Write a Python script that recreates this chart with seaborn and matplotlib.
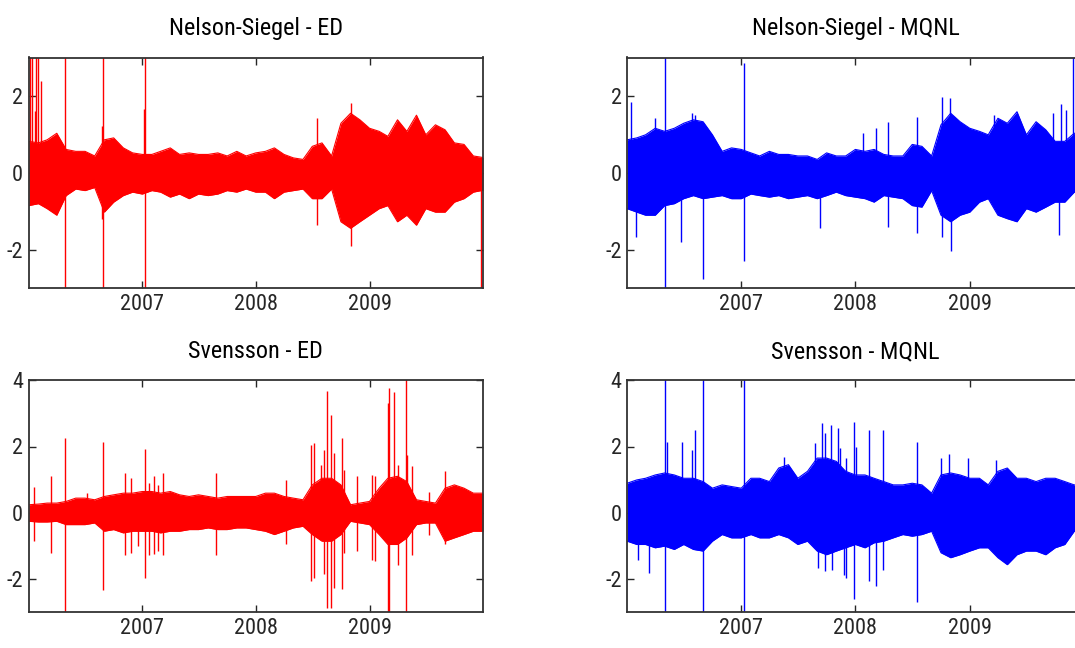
import numpy as np
import pandas as pd
import matplotlib
matplotlib.use("Agg")
import matplotlib.pyplot as plt
from matplotlib import font_manager
import seaborn as sns

# monthly grid, Jan 2006 .. Jan 2010
months = pd.date_range("2006-01-01", "2010-01-01", freq="MS")

# ---- Nelson-Siegel - ED : band envelope
ns_ed_upper = [0.82, 0.78, 0.86, 1.03, 0.61, 0.56, 0.56, 0.44, 0.86, 0.91, 0.65,
               0.52, 0.48, 0.48, 0.56, 0.65, 0.48, 0.52, 0.48, 0.48, 0.52, 0.44, 0.56,
               0.44, 0.52, 0.56, 0.65, 0.48, 0.39, 0.35, 0.69, 0.78, 0.44, 1.29, 1.55,
               1.38, 1.16, 1.08, 0.95, 1.38, 1.08, 1.50, 0.99, 1.25, 1.12, 0.78, 0.74,
               0.44, 0.40]
ns_ed_lower = [-0.85, -0.80, -0.93, -1.10, -0.59, -0.42, -0.46, -0.38, -1.02, -0.76, -0.59,
               -0.50, -0.55, -0.46, -0.50, -0.63, -0.55, -0.67, -0.55, -0.59, -0.55, -0.46, -0.50,
               -0.42, -0.50, -0.50, -0.67, -0.50, -0.46, -0.42, -0.67, -0.67, -0.42, -1.27, -1.44,
               -1.27, -1.10, -0.93, -0.85, -1.27, -1.10, -1.36, -0.93, -1.02, -1.02, -0.76, -0.67,
               -0.50, -0.45]
ns_ed_spike_dates = ["2006-01-05", "2006-01-12", "2006-01-20", "2006-01-24", "2006-02-01",
                     "2006-02-10", "2006-04-29", "2006-08-24", "2006-08-28", "2007-01-07",
                     "2007-01-09", "2008-07-15", "2008-11-04", "2009-12-27"]
ns_ed_spike_hi = [3.2, 3.2, 1.6, 3.2, 3.2, 2.4, 3.2, 1.21, 3.2, 1.67, 3.2, 1.42, 1.83, 0.0]
ns_ed_spike_lo = [0.0, 0.0, 0.0, 0.0, 0.0, 0.0, -3.2, -1.19, -3.2, 0.0, -3.2, -1.36, -1.89, -3.2]

# ---- Nelson-Siegel - MQNL
ns_mq_upper = [0.86, 0.91, 0.99, 1.16, 1.08, 1.16, 1.29, 1.38, 1.33, 0.99, 0.56, 0.65,
               0.61, 0.52, 0.44, 0.56, 0.48, 0.48, 0.44, 0.44, 0.35, 0.52, 0.44, 0.44,
               0.61, 0.56, 0.61, 0.48, 0.44, 0.44, 0.74, 0.69, 0.44, 1.25, 1.55, 1.33,
               1.16, 1.08, 0.99, 1.42, 1.29, 1.59, 0.99, 1.33, 1.12, 0.82, 0.82, 1.03, 1.03]
ns_mq_lower = [-0.93, -1.02, -1.10, -1.10, -0.85, -0.80, -0.67, -0.59, -0.67, -0.63, -0.59, -0.67,
               -0.67, -0.55, -0.59, -0.63, -0.59, -0.67, -0.63, -0.59, -0.67, -0.59, -0.50, -0.59,
               -0.63, -0.67, -0.76, -0.59, -0.63, -0.67, -0.85, -0.89, -0.46, -1.10, -1.27, -1.10,
               -1.02, -0.76, -0.67, -1.10, -1.19, -1.27, -0.93, -1.02, -0.89, -0.76, -0.76, -0.50, -0.50]
ns_mq_spike_dates = ["2006-01-14", "2006-01-29", "2006-04-01", "2006-05-02", "2006-06-23",
                     "2006-07-27", "2006-08-05", "2006-09-02", "2007-01-11", "2007-09-11",
                     "2008-01-27", "2008-03-08", "2008-04-15", "2008-07-16", "2008-10-04",
                     "2008-10-30", "2008-11-02", "2009-03-20", "2009-09-25", "2009-10-12",
                     "2009-10-19", "2009-11-05", "2009-11-26"]
ns_mq_spike_hi = [1.85, 0.0, 1.44, 3.2, 0.0, 1.56, 1.50, 0.0, 2.85, 0.0,
                  1.03, 1.16, 1.33, 1.46, 1.97, 1.96, 0.0, 1.50, 1.55, 0.0,
                  1.80, 1.63, 3.2]
ns_mq_spike_lo = [0.0, -1.66, 0.0, -3.2, -1.79, 0.0, 0.0, -2.77, -2.30, -1.44,
                  0.0, 0.0, -1.40, -1.57, -1.66, 0.0, -2.04, 0.0, 0.0, -1.62,
                  0.0, 0.0, -0.30]

# ---- Svensson - ED
sv_ed_upper = [0.24, 0.26, 0.29, 0.29, 0.34, 0.44, 0.44, 0.39, 0.49, 0.54, 0.59, 0.59,
               0.64, 0.64, 0.59, 0.64, 0.54, 0.49, 0.54, 0.49, 0.44, 0.49, 0.49, 0.49,
               0.49, 0.59, 0.59, 0.49, 0.44, 0.39, 0.84, 1.04, 1.04, 0.84, 0.24, 0.29,
               0.34, 0.74, 1.04, 1.10, 0.94, 0.39, 0.34, 0.29, 0.74, 0.84, 0.74, 0.59, 0.59]
sv_ed_lower = [-0.26, -0.28, -0.28, -0.26, -0.36, -0.36, -0.36, -0.31, -0.56, -0.51, -0.61, -0.56,
               -0.56, -0.56, -0.61, -0.56, -0.56, -0.51, -0.51, -0.46, -0.51, -0.51, -0.46, -0.46,
               -0.51, -0.56, -0.66, -0.56, -0.46, -0.41, -0.66, -0.86, -0.86, -0.66, -0.26, -0.31,
               -0.36, -0.66, -0.96, -0.96, -0.76, -0.36, -0.31, -0.31, -0.86, -0.76, -0.66, -0.56, -0.56]
sv_ed_spike_dates = ["2006-01-18", "2006-03-12", "2006-04-28", "2006-07-06", "2006-08-28",
                     "2006-11-06", "2006-11-27", "2006-12-18", "2007-01-09", "2007-01-23",
                     "2007-02-07", "2007-02-21", "2007-03-08", "2007-08-25", "2008-04-06",
                     "2008-06-28", "2008-07-07", "2008-07-28", "2008-08-08", "2008-08-16",
                     "2008-08-30", "2008-09-08", "2008-10-03", "2008-10-12", "2008-11-21",
                     "2009-01-08", "2009-01-19", "2009-03-01", "2009-03-06", "2009-03-21",
                     "2009-04-04", "2009-04-28", "2009-04-30", "2009-05-17", "2009-07-12",
                     "2009-09-01"]
sv_ed_spike_hi = [0.79, 1.10, 2.25, 0.59, 2.15, 1.21, 1.06, 0.0, 1.93, 0.89,
                  1.10, 0.84, 1.21, 1.21, 0.99, 2.05, 2.10, 1.45, 1.90, 3.67,
                  2.95, 1.80, 2.27, 1.30, 1.10, 1.15, 1.10, 3.30, 3.78, 3.64,
                  1.45, 4.2, 1.75, 1.40, 0.64, 1.25]
sv_ed_spike_lo = [-0.87, -1.22, -3.2, 0.0, -2.35, -1.27, -1.22, -1.01, -1.97, -1.27,
                  -1.24, -1.17, -1.27, -1.27, -0.94, -2.06, -1.96, 0.0, -1.86, -2.87,
                  -2.87, -2.27, -2.32, -1.21, -1.17, -1.42, -1.47, -3.2, -3.2, 0.0,
                  -1.57, -3.2, 0.0, -1.27, -0.66, -0.96]

# ---- Svensson - MQNL
sv_mq_upper = [0.89, 0.99, 1.04, 1.14, 1.20, 1.14, 1.04, 1.04, 0.94, 0.74, 0.84, 0.79,
               0.74, 1.04, 1.04, 0.94, 1.35, 1.45, 1.04, 1.25, 1.65, 1.65, 1.55, 1.25,
               1.14, 1.14, 1.04, 0.94, 0.84, 0.84, 0.89, 0.84, 0.59, 1.14, 1.20, 1.14,
               1.04, 1.04, 0.84, 1.25, 1.35, 1.04, 1.04, 0.94, 1.04, 1.04, 0.94, 0.84, 0.84]
sv_mq_lower = [-0.86, -0.96, -0.96, -1.06, -1.01, -1.11, -0.96, -1.11, -1.16, -0.86, -0.66, -0.76,
               -0.76, -0.66, -0.76, -0.76, -0.66, -0.76, -0.96, -0.86, -1.16, -1.27, -1.16, -1.06,
               -0.96, -1.06, -0.91, -0.86, -0.76, -0.66, -0.71, -0.66, -0.56, -1.21, -1.36, -1.27,
               -1.16, -1.06, -1.06, -1.36, -1.57, -1.27, -1.16, -1.16, -1.27, -1.06, -0.96, -0.56, -0.56]
sv_mq_spike_dates = ["2006-02-05", "2006-03-11", "2006-05-02", "2006-05-08", "2006-06-25",
                     "2006-07-29", "2006-08-07", "2006-09-01", "2007-01-11", "2007-05-18",
                     "2007-08-24", "2007-09-04", "2007-09-17", "2007-09-25", "2007-09-27",
                     "2007-10-14", "2007-10-19", "2007-11-05", "2007-11-12", "2007-11-26",
                     "2007-12-02", "2007-12-27", "2008-01-03", "2008-02-13", "2008-03-08",
                     "2008-03-29", "2008-07-16", "2008-10-01", "2008-10-26", "2008-12-26",
                     "2009-03-26"]
sv_mq_spike_hi = [0.0, 0.0, 4.2, 2.15, 2.15, 1.90, 2.50, 4.2, 4.2, 1.69,
                  2.10, 0.0, 2.70, 0.0, 2.40, 2.65, 0.0, 2.56, 1.95, 0.0,
                  1.65, 2.75, 1.97, 2.50, 0.0, 2.50, 2.15, 1.65, 1.77, 1.65, 1.60]
sv_mq_spike_lo = [-1.42, -1.82, -3.2, 0.0, 0.0, 0.0, 0.0, -3.2, -3.2, 0.0,
                  0.0, -1.66, 0.0, -1.76, 0.0, 0.0, -1.72, 0.0, 0.0, -1.87,
                  -1.97, -2.62, 0.0, -2.06, -2.21, -1.72, -2.70, 0.0, 0.0, 0.0, 0.0]

year_ticks = ["2007-01-01", "2008-01-01", "2009-01-01"]
year_labels = ["2007", "2008", "2009"]

sns.set_style("ticks")
available = {f.name for f in font_manager.fontManager.ttflist}
font = "DejaVu Sans"
for name in ["Liberation Sans Narrow", "Roboto Condensed", "Liberation Sans"]:
    if name in available:
        font = name
        break
plt.rcParams["font.family"] = [font, "DejaVu Sans"]
plt.rcParams["axes.unicode_minus"] = False

RED = "#ff0000"
BLUE = "#0000ff"


def draw_panel(ax, upper, lower, sp_dates, sp_hi, sp_lo, color, title, yticks, ylim):
    df = pd.DataFrame({"date": months, "upper": upper, "lower": lower})
    ax.fill_between(df["date"], df["lower"], df["upper"], color=color, lw=0)
    edges = df.melt(id_vars="date", value_vars=["upper", "lower"],
                    var_name="edge", value_name="resid")
    sns.lineplot(data=edges, x="date", y="resid", units="edge", estimator=None,
                 color=color, lw=0.8, ax=ax, legend=False)
    ax.vlines(pd.to_datetime(sp_dates), sp_lo, sp_hi, color=color, lw=1)

    ax.set_xlim(pd.Timestamp("2006-01-01"), pd.Timestamp("2010-01-01"))
    ax.set_ylim(*ylim)
    ax.set_xticks(pd.to_datetime(year_ticks))
    ax.set_xticklabels(year_labels)
    ax.set_yticks(yticks)
    ax.set_yticklabels([str(t) for t in yticks])
    ax.set_xlabel("")
    ax.set_ylabel("")
    ax.tick_params(direction="in", top=True, right=True, length=5, width=1,
                   labelsize=16, colors="#262626", pad=4)
    for s in ax.spines.values():
        s.set_color("#333333")
        s.set_linewidth(1.3)
    ax.set_title(title, fontsize=17.5, color="black", pad=16)


fig = plt.figure(figsize=(10.75, 6.48), dpi=100)
W, H = 1075.0, 648.0
ax_tl = fig.add_axes([28.8 / W, 1 - 288.3 / H, 454.2 / W, 230.8 / H])
ax_tr = fig.add_axes([627.1 / W, 1 - 288.3 / H, 456.8 / W, 230.8 / H])
ax_bl = fig.add_axes([28.8 / W, 1 - 612.0 / H, 454.2 / W, 231.7 / H])
ax_br = fig.add_axes([627.1 / W, 1 - 612.0 / H, 456.8 / W, 231.7 / H])

draw_panel(ax_tl, ns_ed_upper, ns_ed_lower, ns_ed_spike_dates, ns_ed_spike_hi, ns_ed_spike_lo,
           RED, "Nelson-Siegel - ED", [-2, 0, 2], (-3, 3))
draw_panel(ax_tr, ns_mq_upper, ns_mq_lower, ns_mq_spike_dates, ns_mq_spike_hi, ns_mq_spike_lo,
           BLUE, "Nelson-Siegel - MQNL", [-2, 0, 2], (-3, 3))
draw_panel(ax_bl, sv_ed_upper, sv_ed_lower, sv_ed_spike_dates, sv_ed_spike_hi, sv_ed_spike_lo,
           RED, "Svensson - ED", [-2, 0, 2, 4], (-3, 4))
draw_panel(ax_br, sv_mq_upper, sv_mq_lower, sv_mq_spike_dates, sv_mq_spike_hi, sv_mq_spike_lo,
           BLUE, "Svensson - MQNL", [-2, 0, 2, 4], (-3, 4))

fig.savefig("out.png", dpi=100)
plt.close(fig)
